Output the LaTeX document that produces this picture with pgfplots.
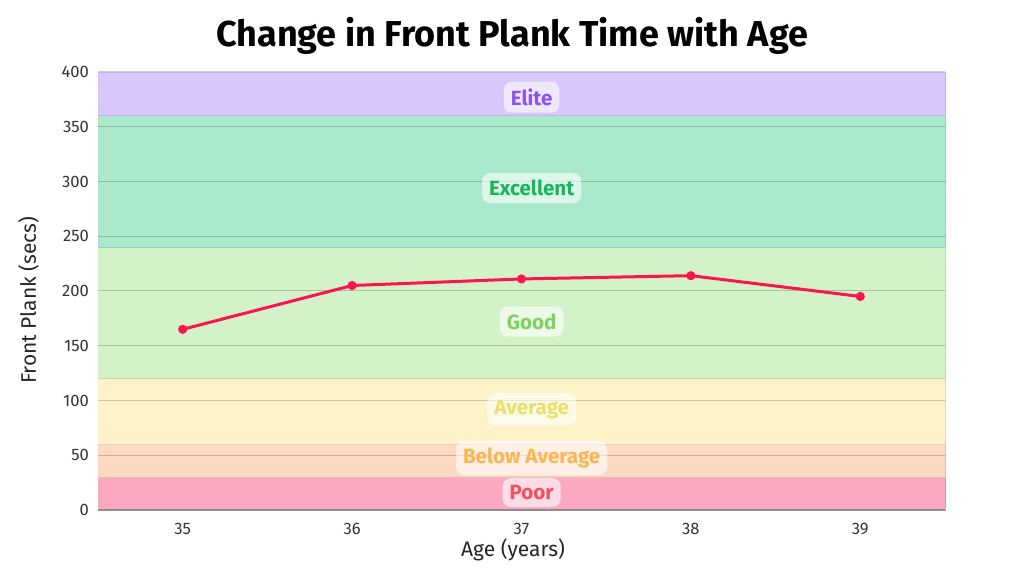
\documentclass[border=0pt]{standalone}
\usepackage{pgfplots}
\pgfplotsset{compat=1.18}
\usepackage{fontspec}
\setmainfont{Fira Sans}
\definecolor{elite}{HTML}{D9C6FC}
\definecolor{excel}{HTML}{AAE9CB}
\definecolor{good}{HTML}{D3F2C8}
\definecolor{avg}{HTML}{FEF3C8}
\definecolor{below}{HTML}{FDD9C3}
\definecolor{poor}{HTML}{FDA8C1}
\definecolor{eliteT}{HTML}{8C52F5}
\definecolor{excelT}{HTML}{12B85C}
\definecolor{goodT}{HTML}{7ED35D}
\definecolor{avgT}{HTML}{EBDF6C}
\definecolor{belowT}{HTML}{FDB551}
\definecolor{poorT}{HTML}{F5505E}
\definecolor{lineC}{HTML}{FA1450}
\definecolor{tickC}{HTML}{333333}
\begin{document}
\begin{tikzpicture}
\begin{axis}[
  at={(0,0)}, anchor=south west,
  scale only axis, width=423.5pt, height=219pt,
  set layers,
  xmin=34.5, xmax=39.5, ymin=0, ymax=400,
  xtick={35,36,37,38,39},
  ytick={0,50,...,400},
  ymajorgrids,
  grid style={black, opacity=0.2, line width=0.5pt},
  axis x line*=bottom, axis y line*=left,
  x axis line style={draw=black!45, line width=0.6pt, -},
  y axis line style={draw=none},
  major tick length=0pt,
  tick style={draw=none},
  ticklabel style={font=\fontsize{8.3}{10}\selectfont, text=tickC},
  xticklabel style={yshift=-3pt},
  yticklabel style={xshift=-1pt},
  /pgf/number format/assume math mode=true,
  title={\bfseries Change in Front Plank Time with Age},
  title style={font=\fontsize{18}{21}\selectfont, at={(axis description cs:0.489,1.054)}, anchor=center},
  xlabel={Age (years)},
  ylabel={Front Plank (secs)},
  label style={font=\fontsize{10.5}{12}\selectfont, text=black!85},
  xlabel style={at={(axis description cs:0.49,-0.091)}, anchor=center},
  ylabel style={at={(axis description cs:-0.082,0.479)}, anchor=center},
]
\addplot[on layer=axis background, fill=poor, draw=poor!85!black!90, line width=0.4pt] coordinates {(34.5,0)(39.5,0)(39.5,30)(34.5,30)};
\addplot[on layer=axis background, fill=below, draw=below!85!black!90, line width=0.4pt] coordinates {(34.5,30)(39.5,30)(39.5,60)(34.5,60)};
\addplot[on layer=axis background, fill=avg, draw=avg!85!black!90, line width=0.4pt] coordinates {(34.5,60)(39.5,60)(39.5,120)(34.5,120)};
\addplot[on layer=axis background, fill=good, draw=good!90!black, line width=0.4pt] coordinates {(34.5,120)(39.5,120)(39.5,240)(34.5,240)};
\addplot[on layer=axis background, fill=excel, draw=excel!90!black, line width=0.4pt] coordinates {(34.5,240)(39.5,240)(39.5,360)(34.5,360)};
\addplot[on layer=axis background, fill=elite, draw=elite!90!black, line width=0.4pt] coordinates {(34.5,360)(39.5,360)(39.5,400)(34.5,400)};

\addplot[lineC, line width=1.5pt, mark=*, mark size=1.5pt, mark options={fill=lineC, draw=lineC}] coordinates {
(35,165) (36,205) (37,211) (38,214) (39,195)};

\tikzset{bandlab/.style={font=\fontsize{10.3}{12}\selectfont\bfseries, fill=white, fill opacity=0.6, text opacity=1, rounded corners=4pt, inner xsep=3.5pt, inner ysep=3.5pt}}
\node[bandlab, text=eliteT] at (axis cs:37.06,377) {Elite};
\node[bandlab, text=excelT] at (axis cs:37.06,294) {Excellent};
\node[bandlab, text=goodT] at (axis cs:37.06,172) {Good};
\node[bandlab, text=avgT] at (axis cs:37.06,92) {Average};
\node[bandlab, text=belowT] at (axis cs:37.06,47.5) {Below Average};
\node[bandlab, text=poorT] at (axis cs:37.06,16) {Poor};
\end{axis}
\pgfresetboundingbox
\useasboundingbox (-49pt,-33pt) rectangle (463pt,255pt);
\end{tikzpicture}
\end{document}
